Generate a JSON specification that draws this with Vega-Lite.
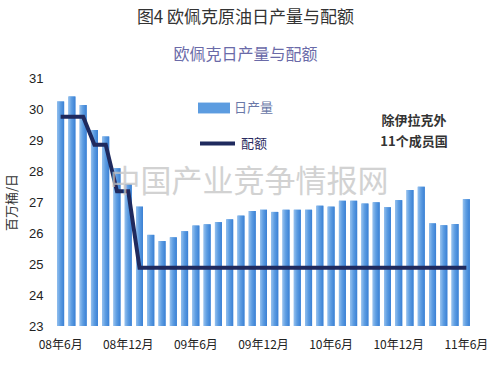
{
  "$schema": "https://vega.github.io/schema/vega-lite/v6.json",
  "autosize": "none",
  "width": 417,
  "height": 248,
  "padding": {"left": 55, "top": 78, "right": 21, "bottom": 40},
  "background": "#ffffff",
  "title": {
    "text": "图4  欧佩克原油日产量与配额",
    "subtitle": "欧佩克日产量与配额",
    "anchor": "middle",
    "frame": "group",
    "font": "Noto Sans CJK SC",
    "fontSize": 17,
    "fontWeight": "normal",
    "color": "#333333",
    "subtitleFont": "Noto Sans CJK SC",
    "subtitleFontSize": 16,
    "subtitleColor": "#6a6aa8",
    "subtitlePadding": 20,
    "offset": 8,
    "dx": -18
  },
  "config": {"view": {"stroke": null}},
  "datasets": {
    "opec": [
      {"m": "08年6月", "prod": 30.24, "quota": 29.75},
      {"m": "08年7月", "prod": 30.40, "quota": 29.75},
      {"m": "08年8月", "prod": 30.13, "quota": 29.75},
      {"m": "08年9月", "prod": 29.32, "quota": 28.85},
      {"m": "08年10月", "prod": 29.11, "quota": 28.85},
      {"m": "08年11月", "prod": 28.09, "quota": 27.35},
      {"m": "08年12月", "prod": 27.57, "quota": 27.35},
      {"m": "09年1月", "prod": 26.85, "quota": 24.88},
      {"m": "09年2月", "prod": 25.94, "quota": 24.88},
      {"m": "09年3月", "prod": 25.74, "quota": 24.88},
      {"m": "09年4月", "prod": 25.86, "quota": 24.88},
      {"m": "09年5月", "prod": 26.06, "quota": 24.88},
      {"m": "09年6月", "prod": 26.24, "quota": 24.88},
      {"m": "09年7月", "prod": 26.28, "quota": 24.88},
      {"m": "09年8月", "prod": 26.35, "quota": 24.88},
      {"m": "09年9月", "prod": 26.44, "quota": 24.88},
      {"m": "09年10月", "prod": 26.56, "quota": 24.88},
      {"m": "09年11月", "prod": 26.71, "quota": 24.88},
      {"m": "09年12月", "prod": 26.75, "quota": 24.88},
      {"m": "10年1月", "prod": 26.68, "quota": 24.88},
      {"m": "10年2月", "prod": 26.75, "quota": 24.88},
      {"m": "10年3月", "prod": 26.75, "quota": 24.88},
      {"m": "10年4月", "prod": 26.75, "quota": 24.88},
      {"m": "10年5月", "prod": 26.88, "quota": 24.88},
      {"m": "10年6月", "prod": 26.85, "quota": 24.88},
      {"m": "10年7月", "prod": 27.04, "quota": 24.88},
      {"m": "10年8月", "prod": 27.04, "quota": 24.88},
      {"m": "10年9月", "prod": 26.95, "quota": 24.88},
      {"m": "10年10月", "prod": 26.99, "quota": 24.88},
      {"m": "10年11月", "prod": 26.83, "quota": 24.88},
      {"m": "10年12月", "prod": 27.06, "quota": 24.88},
      {"m": "11年1月", "prod": 27.39, "quota": 24.88},
      {"m": "11年2月", "prod": 27.49, "quota": 24.88},
      {"m": "11年3月", "prod": 26.31, "quota": 24.88},
      {"m": "11年4月", "prod": 26.25, "quota": 24.88},
      {"m": "11年5月", "prod": 26.29, "quota": 24.88},
      {"m": "11年6月", "prod": 27.09, "quota": 24.88}
    ],
    "one": [{}]
  },
  "data": {"name": "opec"},
  "encoding": {
    "x": {
      "field": "m",
      "type": "ordinal",
      "sort": null,
      "scale": {"paddingInner": 0.38, "paddingOuter": 0.19},
      "axis": {
        "title": null,
        "values": ["08年6月", "08年12月", "09年6月", "09年12月", "10年6月", "10年12月", "11年6月"],
        "labelAngle": 0,
        "domain": false,
        "ticks": false,
        "labelPadding": 13,
        "labelFont": "Noto Sans CJK SC",
        "labelFontSize": 12,
        "labelColor": "#222222"
      }
    }
  },
  "layer": [
    {
      "mark": {"type": "bar"},
      "encoding": {
        "y": {
          "field": "prod",
          "type": "quantitative",
          "scale": {"domain": [23, 31], "zero": false, "nice": false},
          "axis": {
            "title": "百万桶/日",
            "titleFont": "Noto Sans CJK SC",
            "titleFontSize": 13,
            "titleFontWeight": "normal",
            "titleColor": "#333333",
            "titlePadding": 10,
            "values": [23, 24, 25, 26, 27, 28, 29, 30, 31],
            "labelOverlap": false,
            "grid": false,
            "domain": false,
            "ticks": false,
            "labelPadding": 12,
            "labelFont": "Liberation Sans",
            "labelFontSize": 13,
            "labelColor": "#222222"
          }
        },
        "y2": {"datum": 23},
        "fill": {
          "datum": "日产量",
          "type": "nominal",
          "scale": {"range": ["#5c9ce0"]},
          "legend": {
            "title": null,
            "orient": "none",
            "legendX": 143,
            "legendY": 14,
            "symbolType": "M-1,-0.34L1,-0.34L1,0.34L-1,0.34Z",
            "symbolSize": 1024,
            "symbolStrokeWidth": 0,
            "labelFont": "Noto Sans CJK SC",
            "labelFontSize": 13,
            "labelColor": "#6a78a8",
            "labelOffset": 4
          }
        }
      }
    },
    {
      "mark": {
        "type": "bar",
        "fill": {"gradient": "linear", "x1": 0, "x2": 1, "y1": 0, "y2": 0, "stops": [{"offset": 0, "color": "#94c0ee"}, {"offset": 0.45, "color": "#5d9de2"}, {"offset": 1, "color": "#3a80d4"}]}
      },
      "encoding": {
        "y": {"field": "prod", "type": "quantitative", "axis": {"values": [23, 24, 25, 26, 27, 28, 29, 30, 31], "labelOverlap": false}},
        "y2": {"datum": 23}
      }
    },
    {
      "mark": {"type": "line", "strokeWidth": 4},
      "encoding": {
        "y": {
          "field": "quota",
          "type": "quantitative",
          "axis": {"values": [23, 24, 25, 26, 27, 28, 29, 30, 31], "labelOverlap": false}
        },
        "stroke": {
          "datum": "配额",
          "type": "nominal",
          "scale": {"range": ["#1f2a5e"]},
          "legend": {
            "title": null,
            "orient": "none",
            "legendX": 143,
            "legendY": 46,
            "symbolType": "stroke",
            "symbolSize": 1225,
            "symbolStrokeWidth": 4,
            "labelFont": "Noto Sans CJK SC",
            "labelFontSize": 13,
            "labelColor": "#2a2a60",
            "labelOffset": 4
          }
        }
      }
    },
    {
      "data": {"name": "one"},
      "mark": {
        "type": "text",
        "text": "中国产业竞争情报网",
        "font": "Noto Sans CJK SC",
        "fontSize": 31,
        "color": "#c4c4c4",
        "opacity": 0.75,
        "align": "center",
        "baseline": "middle",
        "dx": 8
      },
      "encoding": {
        "x": {"datum": "09年10月"},
        "y": {"datum": 27.61, "axis": {"values": [23, 24, 25, 26, 27, 28, 29, 30, 31], "labelOverlap": false}}
      }
    },
    {
      "data": {"name": "one"},
      "mark": {
        "type": "text",
        "text": ["除伊拉克外", "11个成员国"],
        "font": "Noto Sans CJK SC",
        "fontSize": 13,
        "fontWeight": "bold",
        "color": "#333333",
        "align": "center",
        "baseline": "middle",
        "lineHeight": 21,
        "dx": 4
      },
      "encoding": {
        "x": {"datum": "11年1月"},
        "y": {"datum": 29.6, "axis": {"values": [23, 24, 25, 26, 27, 28, 29, 30, 31], "labelOverlap": false}}
      }
    }
  ]
}
